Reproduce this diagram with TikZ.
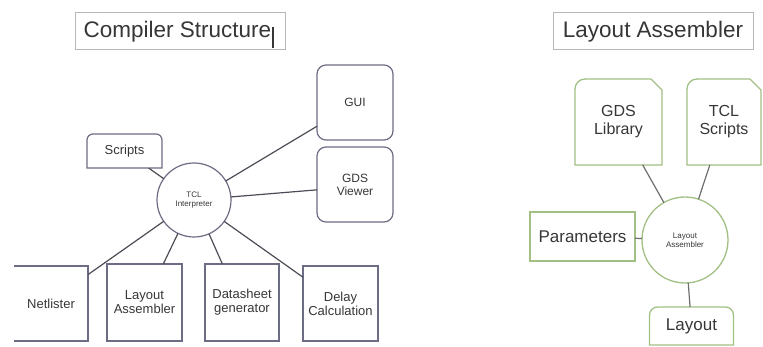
\documentclass[tikz,border=0pt]{standalone}
\usepackage{fontspec}
\setmainfont{Liberation Sans}
\usetikzlibrary{positioning}

\definecolor{inkgray}{HTML}{363636}
\definecolor{boxpurple}{HTML}{6C6C84}
\definecolor{linegray}{HTML}{4C4C56}
\definecolor{boxgreen}{HTML}{A2BF84}
\definecolor{greenline}{HTML}{6E6E6E}
\definecolor{titlegray}{HTML}{B8B8B8}

\begin{document}
\begin{tikzpicture}[x=1pt,y=-1pt,
  every node/.style={inner sep=0pt,outer sep=0pt,align=center,text=inkgray},
  title/.style={draw=titlegray,line width=1pt,minimum height=37pt,
    font=\fontsize{22.5}{24}\selectfont},
  cbox/.style={line width=1.2pt,font=\fontsize{13}{14}\selectfont},
  cline/.style={draw=boxpurple,line width=1.2pt},
  gline/.style={draw=boxgreen,line width=1.3pt},
  gbox/.style={font=\fontsize{16}{18}\selectfont}]
  \useasboundingbox (0,0) rectangle (763,347);

  % compiler structure
  \path
  node[title,minimum width=210pt] (ctitle) at (180,31.5) {Compiler Structure\hspace{5pt}}
  node[cbox,cline,rounded corners=9pt,minimum width=76pt,minimum height=75pt,
    font=\fontsize{12}{13}\selectfont] (gui) at (355,102.5) {GUI}
  node[cbox,cline,rounded corners=9pt,minimum width=76pt,minimum height=75pt,
    font=\fontsize{12}{13}\selectfont] (gdsv) at (355,184.5) {GDS\\Viewer}
  node[cbox,minimum width=75pt,minimum height=34pt] (scr) at (124.5,151) {Scripts}
  node[circle,cline,minimum size=74pt,font=\fontsize{8}{9}\selectfont] (tcl) at (194,200) {TCL\\Interpreter}
  node[cbox,minimum width=74pt,minimum height=75pt] (netl) at (51,303.5) {Netlister}
  node[cbox,cline,minimum width=75pt,minimum height=77pt] (lasm) at (144.5,302.5) {Layout\\Assembler}
  node[cbox,cline,minimum width=74pt,minimum height=77pt] (dsg) at (242,302.5) {Datasheet\\generator}
  node[cbox,cline,minimum width=75pt,minimum height=75pt] (delay) at (340.5,303.5) {Delay\\Calculation}
  ;
  \draw[inkgray,line width=1.4pt] (273,27) -- (273,48);
  \draw[cline] (scr.south west) [rounded corners=6pt] -- (scr.north west)
    -- (scr.north east) [sharp corners] -- (scr.south east) -- cycle;
  \draw[cline] (netl.north west) -- (netl.north east) -- (netl.south east) -- (netl.south west);

  \path[draw=linegray,line width=1.2pt]
  (tcl) edge (scr)
  (tcl) edge (gui.212)
  (tcl) edge (gdsv.188)
  (tcl) edge (netl.38)
  (tcl) edge (lasm.64)
  (tcl) edge (dsg.117)
  (tcl) edge (delay.145)
  ;

  % layout assembler
  \path
  node[title,minimum width=200pt] (ltitle) at (653,31.5) {Layout Assembler}
  node[gbox,minimum width=87pt,minimum height=86pt] (glib) at (618.5,122) {GDS\\Library}
  node[gbox,minimum width=74pt,minimum height=86pt] (tcls) at (724,122) {TCL\\Scripts}
  node[gline,draw,minimum width=105pt,minimum height=49pt,
    font=\fontsize{17}{18}\selectfont] (params) at (582.5,236.5) {Parameters}
  node[circle,gline,draw,minimum size=86pt,font=\fontsize{8}{9}\selectfont] (lac) at (685,240) {Layout\\Assembler}
  node[minimum width=84pt,minimum height=38pt,font=\fontsize{17}{18}\selectfont] (lay) at (691.5,326) {Layout}
  ;
  \draw[gline] (glib.south west) [rounded corners=10pt] -- (glib.north west)
    [sharp corners] -- ([xshift=-11pt]glib.north east) -- ([yshift=-11pt]glib.north east)
    -- (glib.south east) -- cycle;
  \draw[gline] (tcls.south west) [rounded corners=10pt] -- (tcls.north west)
    [sharp corners] -- ([xshift=-11pt]tcls.north east) -- ([yshift=-11pt]tcls.north east)
    -- (tcls.south east) -- cycle;
  \draw[gline] (lay.south west) [rounded corners=8pt] -- (lay.north west)
    -- (lay.north east) [sharp corners] -- (lay.south east) -- cycle;

  \path[draw=greenline,line width=1.2pt]
  (lac) edge (glib)
  (lac) edge (tcls)
  (lac) edge (params)
  (lac) edge (lay)
  ;
\end{tikzpicture}
\end{document}
